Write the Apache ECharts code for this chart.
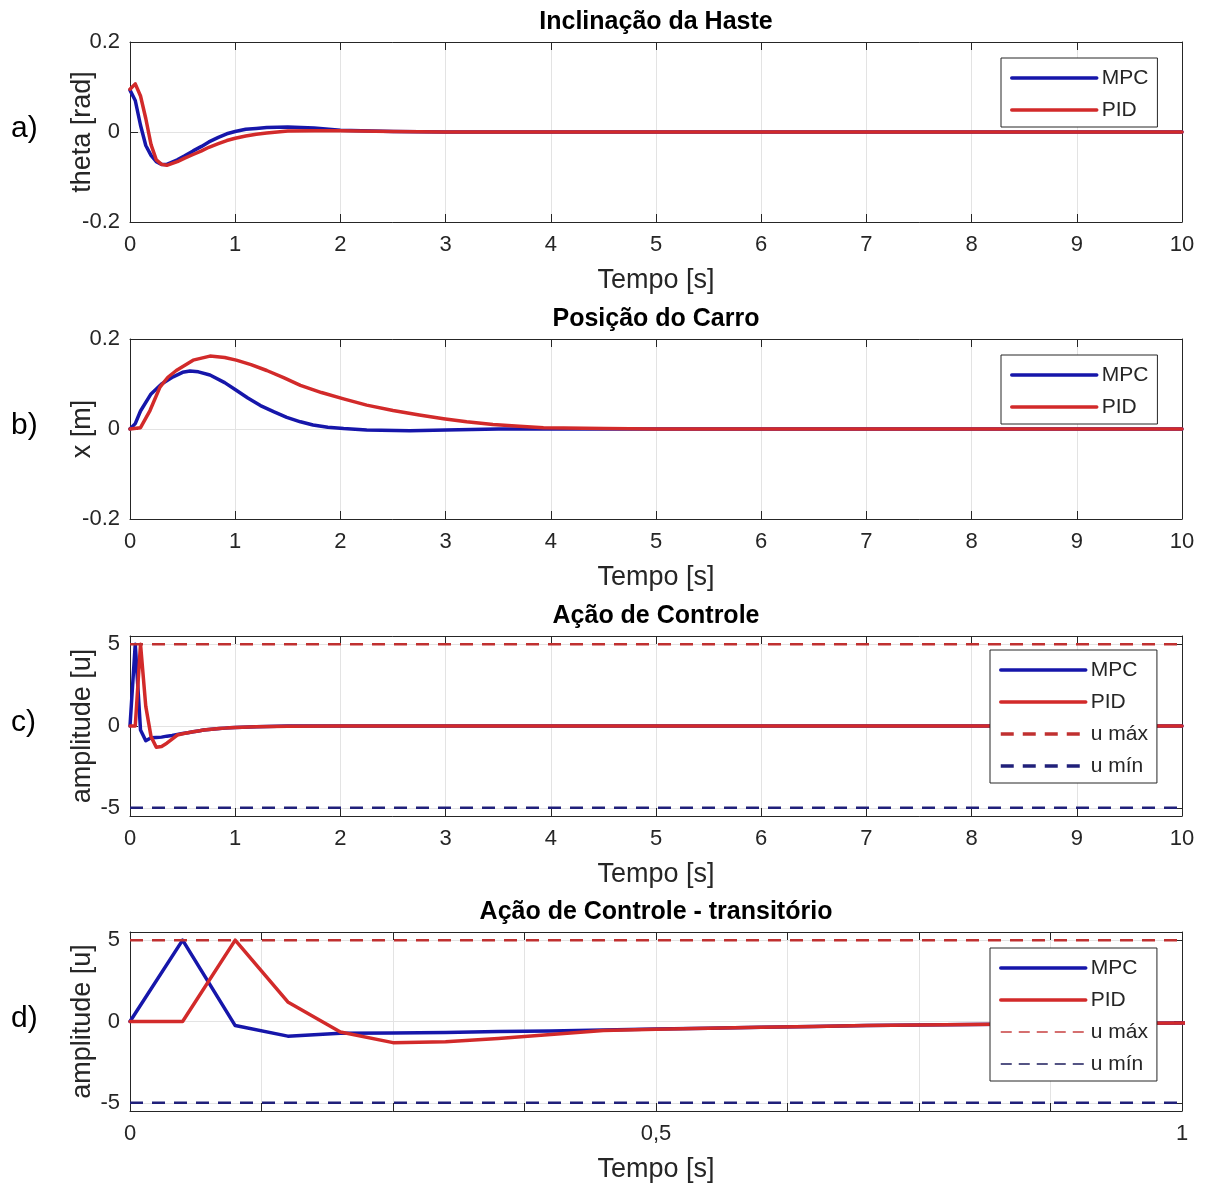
<!DOCTYPE html>
<html>
<head>
<meta charset="utf-8">
<script src="https://cdn.jsdelivr.net/npm/echarts@6/dist/echarts.min.js"></script>
<style>html,body{margin:0;padding:0;background:#fff}#c{width:1207px;height:1184px}</style>
</head>
<body>
<div id="c"></div>
<script>
// ---------- data ----------
var titles = ['Inclinação da Haste', 'Posição do Carro', 'Ação de Controle', 'Ação de Controle - transitório'];
var panelLabels = ['a)', 'b)', 'c)', 'd)'];
var yNames = ['theta [rad]', 'x [m]', 'amplitude [u]', 'amplitude [u]'];
var xName = 'Tempo [s]';
var seriesNames = ['MPC', 'PID', 'u máx', 'u mín'];

// a) theta [rad] vs time [s]
var thetaMPC = [[0,0.093],[0.05,0.07],[0.1,0.015],[0.15,-0.03],[0.2,-0.052],[0.25,-0.066],[0.3,-0.072],[0.35,-0.072],[0.45,-0.062],[0.52,-0.053],[0.6,-0.042],[0.68,-0.032],[0.75,-0.022],[0.84,-0.012],[0.92,-0.004],[1.0,0.001],[1.1,0.006],[1.2,0.008],[1.3,0.01],[1.5,0.011],[1.75,0.009],[2.0,0.004],[2.5,0.001],[3,0],[10,0]];
var thetaPID = [[0,0.095],[0.05,0.107],[0.1,0.08],[0.15,0.03],[0.2,-0.028],[0.25,-0.062],[0.3,-0.072],[0.35,-0.074],[0.45,-0.066],[0.52,-0.058],[0.6,-0.05],[0.68,-0.042],[0.75,-0.034],[0.84,-0.026],[0.92,-0.019],[1.0,-0.014],[1.1,-0.009],[1.2,-0.005],[1.3,-0.002],[1.5,0.002],[1.75,0.003],[2.0,0.003],[2.5,0.001],[3,0],[10,0]];

// b) x [m] vs time [s]
var posMPC = [[0,0],[0.05,0.012],[0.1,0.04],[0.2,0.078],[0.3,0.1],[0.41,0.116],[0.5,0.126],[0.57,0.129],[0.65,0.127],[0.76,0.12],[0.9,0.103],[1.01,0.086],[1.12,0.069],[1.24,0.052],[1.37,0.038],[1.49,0.026],[1.62,0.016],[1.74,0.009],[1.88,0.004],[2.03,0.001],[2.25,-0.002],[2.66,-0.004],[3.0,-0.002],[3.5,0],[10,0]];
var posPID = [[0,0],[0.1,0.003],[0.19,0.041],[0.285,0.093],[0.36,0.115],[0.44,0.13],[0.6,0.153],[0.76,0.162],[0.9,0.159],[1.01,0.153],[1.15,0.143],[1.3,0.13],[1.46,0.114],[1.62,0.097],[1.82,0.081],[2.03,0.067],[2.25,0.053],[2.5,0.041],[2.75,0.031],[2.98,0.023],[3.2,0.016],[3.45,0.01],[3.7,0.006],[3.93,0.003],[4.5,0.001],[5,0],[10,0]];

// c) / d) control action u vs time [s]
var uMPC = [[0,0],[0.05,5],[0.1,-0.25],[0.15,-0.9],[0.2,-0.72],[0.25,-0.7],[0.3,-0.68],[0.35,-0.62],[0.4,-0.58],[0.45,-0.52],[0.5,-0.46],[0.55,-0.41],[0.6,-0.35],[0.65,-0.3],[0.7,-0.25],[0.75,-0.21],[0.8,-0.18],[0.85,-0.15],[0.9,-0.13],[0.95,-0.11],[1.0,-0.09],[1.2,-0.04],[1.5,0],[10,0]];
var uPID = [[0,0],[0.05,0],[0.1,5],[0.15,1.2],[0.2,-0.65],[0.25,-1.3],[0.3,-1.25],[0.35,-1.05],[0.4,-0.8],[0.45,-0.55],[0.5,-0.47],[0.55,-0.41],[0.6,-0.35],[0.65,-0.3],[0.7,-0.25],[0.75,-0.21],[0.8,-0.18],[0.85,-0.15],[0.9,-0.13],[0.95,-0.11],[1.0,-0.09],[1.2,-0.05],[1.5,-0.01],[2,0],[10,0]];
var uMax = 5, uMin = -5;

// axis ranges / ticks
var xRanges = [[0,10,1],[0,10,1],[0,10,1],[0,1,0.125]];
var yRanges = [[-0.2,0.2],[-0.2,0.2],[-5.5,5.5],[-5.5,5.5]];
var yTickValues = [[-0.2,0,0.2],[-0.2,0,0.2],[-5,0,5],[-5,0,5]];

// ---------- styling ----------
var FONT = 'Liberation Sans, Arial, sans-serif';
var BLUE = '#1616aa', RED = '#d22a2a', DRED = '#c03030', DBLUE = '#20207a';
var tops = [42, 339, 636, 932];
var H = 180, LEFT = 130, RIGHT = 25;
var AX = '#262626';

var grids = [], xAxes = [], yAxes = [], series = [], titleArr = [], legends = [], graphics = [];

function fmtX(i){
  return function(v){
    if (i === 3) {
      if (Math.abs(v) < 1e-9) return '0';
      if (Math.abs(v-0.5) < 1e-9) return '0,5';
      if (Math.abs(v-1) < 1e-9) return '1';
      return '';
    }
    return String(v);
  };
}

for (var i = 0; i < 4; i++) {
  grids.push({left: LEFT, right: RIGHT, top: tops[i], height: H, containLabel: false});
  var xr = xRanges[i];
  xAxes.push({
    type: 'value', gridIndex: i, position: 'bottom', min: xr[0], max: xr[1], interval: xr[2],
    name: xName, nameLocation: 'middle', nameGap: 45, nameMoveOverlap: false,
    nameTextStyle: {fontFamily: FONT, fontSize: 27, color: AX},
    axisLine: {show: true, onZero: false, lineStyle: {color: AX, width: 1}},
    axisTick: {show: true, inside: true, length: 8, lineStyle: {color: AX}},
    axisLabel: {fontFamily: FONT, fontSize: 22, color: AX, margin: 12, formatter: fmtX(i), showMinLabel: true, showMaxLabel: true},
    splitLine: {show: true, lineStyle: {color: '#e3e3e3', width: 1}}
  });
  xAxes.push({
    type: 'value', gridIndex: i, position: 'top', min: xr[0], max: xr[1], interval: xr[2],
    axisLine: {show: true, onZero: false, lineStyle: {color: AX, width: 1}},
    axisTick: {show: true, inside: true, length: 8, lineStyle: {color: AX}},
    axisLabel: {show: false}, splitLine: {show: false}
  });
  var yr = yRanges[i];
  yAxes.push({
    type: 'value', gridIndex: i, position: 'left', min: yr[0], max: yr[1],
    name: yNames[i], nameLocation: 'middle', nameGap: 34, nameMoveOverlap: false,
    nameTextStyle: {fontFamily: FONT, fontSize: 27, color: AX},
    axisLine: {show: true, onZero: false, lineStyle: {color: AX, width: 1}},
    axisTick: {show: true, inside: true, length: 8, lineStyle: {color: AX}, customValues: yTickValues[i]},
    axisLabel: {fontFamily: FONT, fontSize: 22, color: AX, margin: 10, customValues: yTickValues[i]},
    splitLine: {show: true, lineStyle: {color: '#e3e3e3', width: 1}}
  });
  yAxes.push({
    type: 'value', gridIndex: i, position: 'right', min: yr[0], max: yr[1],
    axisLine: {show: true, onZero: false, lineStyle: {color: AX, width: 1}},
    axisTick: {show: true, inside: true, length: 8, lineStyle: {color: AX}, customValues: yTickValues[i]},
    axisLabel: {show: false, customValues: yTickValues[i]}, splitLine: {show: false}
  });
  titleArr.push({
    text: titles[i], left: LEFT + (1207 - LEFT - RIGHT) / 2, top: tops[i] - 34, textAlign: 'center', padding: 0,
    textStyle: {fontFamily: FONT, fontSize: 25, fontWeight: 'bold', color: '#000', lineHeight: 28}
  });
  graphics.push({
    type: 'text', left: 11, top: tops[i] + H/2 - 18,
    style: {text: panelLabels[i], font: '30px ' + FONT, fill: '#000'}
  });
}

function lineSeries(name, data, idx, color, width, dash) {
  return {
    type: 'line', name: name, data: data, xAxisIndex: idx*2, yAxisIndex: idx*2,
    symbol: 'none', showSymbol: false, smooth: false, clip: true, animation: false,
    lineStyle: {color: color, width: width, type: dash || 'solid', join: 'round', cap: 'round'},
    itemStyle: {color: color}
  };
}

// panel a
series.push(lineSeries('MPC', thetaMPC, 0, BLUE, 3.5));
series.push(lineSeries('PID', thetaPID, 0, RED, 3.5));
// panel b
series.push(lineSeries('MPC', posMPC, 1, BLUE, 3.5));
series.push(lineSeries('PID', posPID, 1, RED, 3.5));
// panel c and d
[2, 3].forEach(function(p){
  var xmax = xRanges[p][1];
  series.push(lineSeries('MPC', uMPC, p, BLUE, 3.5));
  series.push(lineSeries('PID', uPID, p, RED, 3.5));
  var mx = lineSeries('u máx', [[0, uMax], [xmax, uMax]], p, DRED, 2.5, [13, 9]);
  var mn = lineSeries('u mín', [[0, uMin], [xmax, uMin]], p, DBLUE, 2.5, [13, 9]);
  mx.lineStyle.cap = 'butt'; mn.lineStyle.cap = 'butt';
  series.push(mx); series.push(mn);
});

function legendBox(top, left, data) {
  return {
    orient: 'vertical', left: left, top: top, itemWidth: 85, itemHeight: 14, itemGap: 10,
    padding: [9, 9, 6, 9], borderColor: AX, borderWidth: 1, backgroundColor: '#fff',
    selectedMode: false,
    itemStyle: {opacity: 0, borderWidth: 0},
    textStyle: {fontFamily: FONT, fontSize: 21, color: AX, lineHeight: 22},
    data: data
  };
}
var solidMPC = {name: 'MPC', lineStyle: {width: 3.5, type: 'solid', color: BLUE}};
var solidPID = {name: 'PID', lineStyle: {width: 3.5, type: 'solid', color: RED}};
legends.push(legendBox(58, 1001, [solidMPC, solidPID]));
legends.push(legendBox(355, 1001, [solidMPC, solidPID]));
legends.push(legendBox(650, 990, [solidMPC, solidPID,
  {name: 'u máx', lineStyle: {width: 3.5, type: [13, 9], color: DRED}},
  {name: 'u mín', lineStyle: {width: 3.5, type: [13, 9], color: DBLUE}}]));
legends.push(legendBox(948, 990, [solidMPC, solidPID,
  {name: 'u máx', lineStyle: {width: 1.3, type: [11, 7], color: '#c84040'}},
  {name: 'u mín', lineStyle: {width: 1.3, type: [11, 7], color: '#1c1c5c'}}]));

var chart = echarts.init(document.getElementById('c'), null, {renderer: 'canvas'});
chart.setOption({
  backgroundColor: '#fff',
  animation: false,
  title: titleArr,
  grid: grids,
  xAxis: xAxes,
  yAxis: yAxes,
  legend: legends,
  series: series,
  graphic: graphics
});
</script>
</body>
</html>
